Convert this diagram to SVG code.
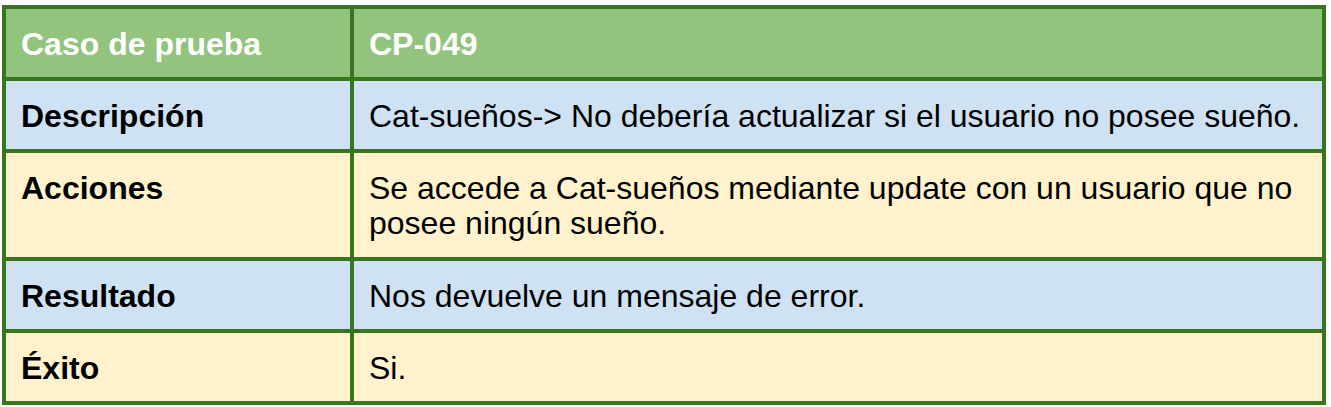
<svg xmlns="http://www.w3.org/2000/svg" width="1331" height="407" viewBox="0 0 1331 407">
<style>
.t{font-family:"Liberation Sans",Arial,sans-serif;font-size:32px;fill:#000}
.b{font-weight:bold}
.w{fill:#fff}
.g{fill:#93c47d}
.bl{fill:#cfe2f3}
.y{fill:#fff2cc}
.ln{stroke:#38761d;stroke-width:4;fill:none}
</style>
<rect width="1331" height="407" fill="#fff"/>
<g id="row-header">
<rect class="g" x="4" y="7" width="1320" height="72"/>
<text class="t b w" x="21" y="55">Caso de prueba</text>
<text class="t b w" x="369" y="55">CP-049</text>
</g>
<g id="row-descripcion">
<rect class="bl" x="4" y="79" width="1320" height="72"/>
<text class="t b" x="21" y="127">Descripción</text>
<text class="t" x="369" y="127">Cat-sueños-&gt; No debería actualizar si el usuario no posee sueño.</text>
</g>
<g id="row-acciones">
<rect class="y" x="4" y="151" width="1320" height="108"/>
<text class="t b" x="21" y="199">Acciones</text>
<text class="t" x="369" y="199">Se accede a Cat-sueños mediante update con un usuario que no</text>
<text class="t" x="369" y="234">posee ningún sueño.</text>
</g>
<g id="row-resultado">
<rect class="bl" x="4" y="259" width="1320" height="72"/>
<text class="t b" x="21" y="307">Resultado</text>
<text class="t" x="369" y="307">Nos devuelve un mensaje de error.</text>
</g>
<g id="row-exito">
<rect class="y" x="4" y="331" width="1320" height="72"/>
<text class="t b" x="21" y="379">Éxito</text>
<text class="t" x="369" y="379">Si.</text>
</g>
<g id="grid">
<rect class="ln" x="4" y="7" width="1320" height="396"/>
<path class="ln" d="M352 7V403M4 79H1324M4 151H1324M4 259H1324M4 331H1324"/>
</g>
</svg>
